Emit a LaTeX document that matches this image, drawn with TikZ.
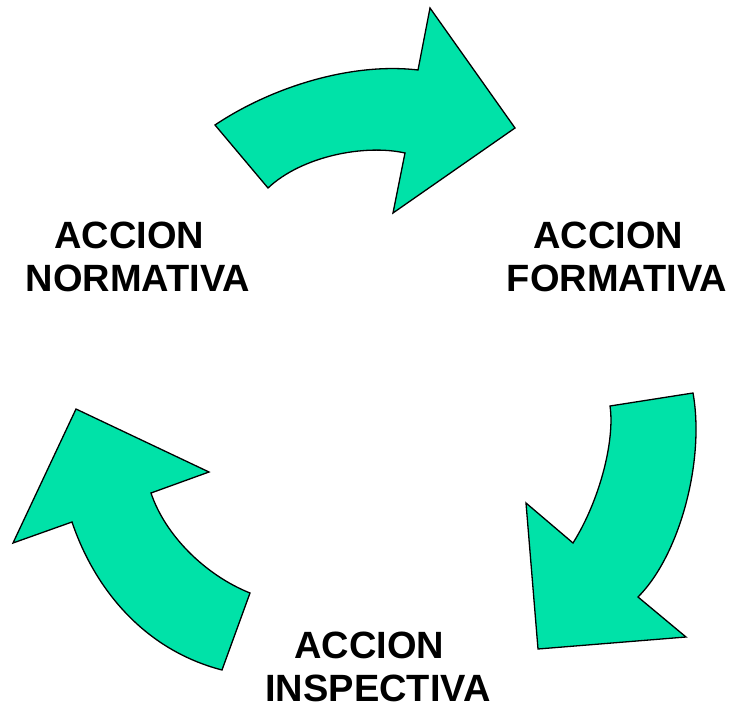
\documentclass[tikz,border=0pt]{standalone}
\usepackage{fontspec}
\setmainfont{Liberation Sans}
\definecolor{arrowgreen}{RGB}{0,226,168}
\begin{document}
\begin{tikzpicture}[x=1pt,y=-1pt,
  cyclearrow/.style={fill=arrowgreen,draw=black,line width=1.3pt,line join=miter},
  label/.style={font=\fontsize{38}{43}\selectfont\bfseries,align=center,inner sep=0pt,anchor=north}]
\useasboundingbox (0,0) rectangle (736,711);
% top arrow
\draw[cyclearrow] (215,125) .. controls (270,88) and (350,62) .. (418,70)
  -- (430,8) -- (515,128) -- (393,213) -- (405,153)
  .. controls (365,144) and (302,156) .. (268,188) -- cycle;
% right arrow
\draw[cyclearrow] (693,393) -- (610,406)
  .. controls (615,440) and (600,500) .. (573,543)
  -- (526,503) -- (538,649) -- (686,637) -- (638,597)
  .. controls (680,555) and (705,460) .. (693,393) -- cycle;
% left arrow
\draw[cyclearrow] (76,409) -- (209,472) -- (151,493)
  .. controls (165,535) and (205,575) .. (250,593)
  -- (222,670) .. controls (145,650) and (95,590) .. (72,522)
  -- (13,543) -- cycle;
\node[label] (normativa) at (138,222) {ACCION\kern0.45em\\NORMATIVA};
\node[label] (formativa) at (617,222) {ACCION\kern0.45em\\FORMATIVA};
\node[label] (inspectiva) at (378,632) {ACCION\kern0.45em\\INSPECTIVA};
\end{tikzpicture}
\end{document}
